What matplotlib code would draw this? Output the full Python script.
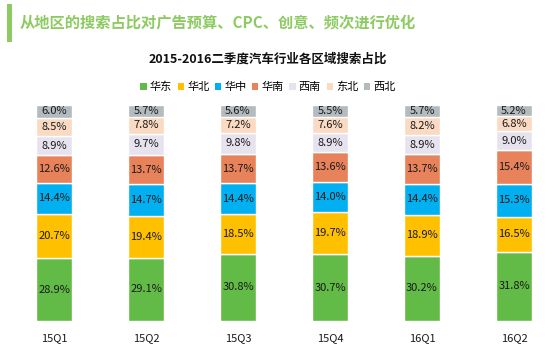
import numpy as np
import matplotlib.pyplot as plt
from matplotlib.patches import Rectangle

plt.rcParams['font.family'] = ['Noto Sans CJK SC', 'DejaVu Sans']

quarters = ['15Q1', '15Q2', '15Q3', '15Q4', '16Q1', '16Q2']
regions = ['华东', '华北', '华中', '华南', '西南', '东北', '西北']
huadong = [28.9, 29.1, 30.8, 30.7, 30.2, 31.8]
huabei = [20.7, 19.4, 18.5, 19.7, 18.9, 16.5]
huazhong = [14.4, 14.7, 14.4, 14.0, 14.4, 15.3]
huanan = [12.6, 13.7, 13.7, 13.6, 13.7, 15.4]
xinan = [8.9, 9.7, 9.8, 8.9, 8.9, 9.0]
dongbei = [8.5, 7.8, 7.2, 7.6, 8.2, 6.8]
xibei = [6.0, 5.7, 5.6, 5.5, 5.7, 5.2]
series = [huadong, huabei, huazhong, huanan, xinan, dongbei, xibei]
colors = ['#62BB46', '#FFC000', '#00B0F0', '#E8825A', '#E6E3EE', '#FADAC3', '#B3BBBF']

fig = plt.figure(figsize=(5.57, 3.56), dpi=100)
fig.patch.set_facecolor('white')

# header bar + headline
fig.add_artist(Rectangle((7/557, 1 - 42/356), 5/557, 38/356, transform=fig.transFigure,
                         color='#8DCB62', lw=0))
fig.text(20/557, 1 - 22/356, '从地区的搜索占比对广告预算、CPC、创意、频次进行优化',
         color='#8DCB62', fontsize=11, fontweight='bold', va='center', ha='left')
fig.text(268/557, 1 - 59/356, '2015-2016二季度汽车行业各区域搜索占比',
         color='#111111', fontsize=9, fontweight='bold', va='center', ha='center')

ax = fig.add_axes([0, (356 - 320.7)/356, 1, 215.7/356])
ax.set_xlim(-54/92, (557-54)/92)
ax.set_ylim(0, 100)

x = np.arange(len(quarters))
bottom = np.zeros(len(quarters))
for name, vals, c in zip(regions, series, colors):
    vals = np.array(vals)
    ax.bar(x, vals, width=0.39, bottom=bottom, color=c, edgecolor='white', linewidth=1, label=name)
    for xi, b, v in zip(x, bottom, vals):
        ax.text(xi, b + v/2, f'{v:.1f}%', ha='center', va='center', fontsize=8, color='#1a1a1a')
    bottom += vals

ax.set_xticks(x)
ax.set_xticklabels(quarters, fontsize=8, color='#1a1a1a')
ax.tick_params(axis='x', length=0, pad=9)
ax.set_yticks([])
for s in ax.spines.values():
    s.set_visible(False)
ax.patch.set_alpha(0)

leg = fig.legend(loc='center', bbox_to_anchor=(268/557, 1 - 87/356), ncol=7, frameon=False,
                 fontsize=8, handlelength=0.55, handleheight=0.55, handletextpad=0.3,
                 columnspacing=0.5)
for h in leg.legend_handles:
    h.set_edgecolor('none')

fig.savefig('out.png', dpi=100)
